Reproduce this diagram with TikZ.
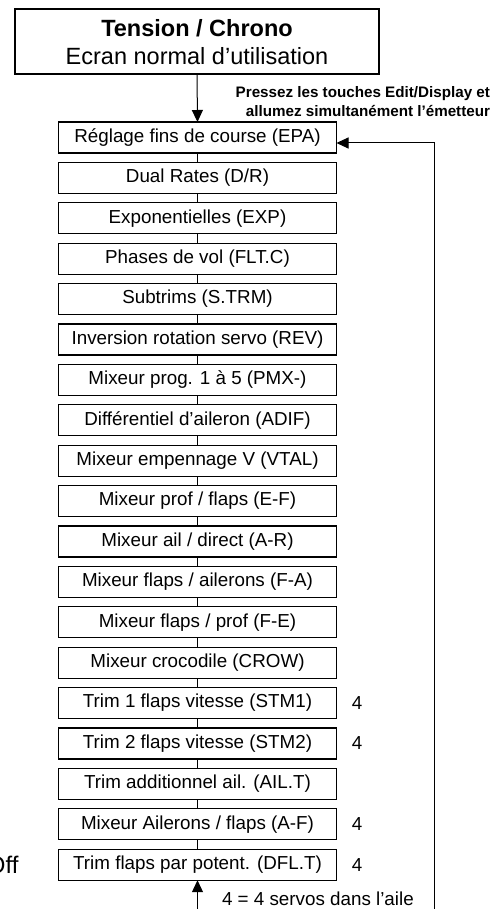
\documentclass[tikz,border=0pt]{standalone}
\usepackage{fontspec}
\setmainfont{Liberation Sans}
\usetikzlibrary{arrows.meta,calc}
\begin{document}
\begin{tikzpicture}[x=1pt,y=-1pt,
  every node/.style={inner sep=0pt,outer sep=0pt},
  menubox/.style={draw,line width=1.2pt,minimum width=278pt,minimum height=31pt,font=\fontsize{18.8}{22}\selectfont},
  titlebox/.style={draw,line width=2.4pt,minimum width=364pt,minimum height=65pt},
  link/.style={line width=1pt},
  arr/.style={line width=1pt,-{Triangle[length=12pt,width=11pt]}},
  lbl/.style={font=\fontsize{18.8}{22}\selectfont}]
\useasboundingbox (0,0) rectangle (501,909);
\clip (0,0) rectangle (501,909);
\fill[white] (0,0) rectangle (501,909);
% title box
\node[titlebox] (top) at (197,41.5) {};
\node (t1) at (197,28) {\fontsize{23.5}{28}\selectfont\bfseries Tension / Chrono};
\node (t2) at (197,56) {\fontsize{23.5}{28}\selectfont Ecran normal d’utilisation};
% instruction
\node[align=right,anchor=north east,font=\fontsize{15.2}{19}\selectfont\bfseries] (instr) at (490,86)
  {Pressez les touches Edit/Display et\\allumez simultanément l’émetteur};
% menu boxes
\foreach \i/\t in {0/{Réglage fins de course (EPA)},1/{Dual Rates (D/R)},2/{Exponentielles (EXP)},
  3/{Phases de vol (FLT.C)},4/{Subtrims (S.TRM)},5/{Inversion rotation servo (REV)},
  6/{Mixeur prog. 1 à 5 (PMX-)},7/{Différentiel d’aileron (ADIF)},8/{Mixeur empennage V (VTAL)},
  9/{Mixeur prof / flaps (E-F)},10/{Mixeur ail / direct (A-R)},11/{Mixeur flaps / ailerons (F-A)},
  12/{Mixeur flaps / prof (F-E)},13/{Mixeur crocodile (CROW)},14/{Trim 1 flaps vitesse (STM1)},
  15/{Trim 2 flaps vitesse (STM2)},16/{Trim additionnel ail. (AIL.T)},17/{Mixeur Ailerons / flaps (A-F)},
  18/{Trim flaps par potent. (DFL.T)}}
  \node[menubox] (b\i) at (197.5,{137.5+40.4*\i}) {\t};
\foreach \i in {0,...,17}{
  \pgfmathtruncatemacro{\j}{\i+1}
  \draw[link] (b\i.south) -- (b\j.north);
}
% "4" labels
\foreach \i in {14,15,17,18}
  \node[lbl] (n\i) at (357,{137.5+40.4*\i}) {4};
% arrows
\draw[arr] (top.south) -- (b0.north);
\coordinate (rbot) at (434,909);
\coordinate (rtop) at (434,143);
\draw[arr] (rbot) -- (rtop) -- (rtop -| b0.east);
\coordinate (bbot) at (197.5,909);
\draw[arr] (bbot) -- (b18.south);
% bottom notes
\node[lbl,anchor=west] (legend) at (222,899) {4 = 4 servos dans l’aile};
\node[anchor=east,font=\fontsize{24}{28}\selectfont] (off) at (18.5,865) {Off};
\end{tikzpicture}
\end{document}
